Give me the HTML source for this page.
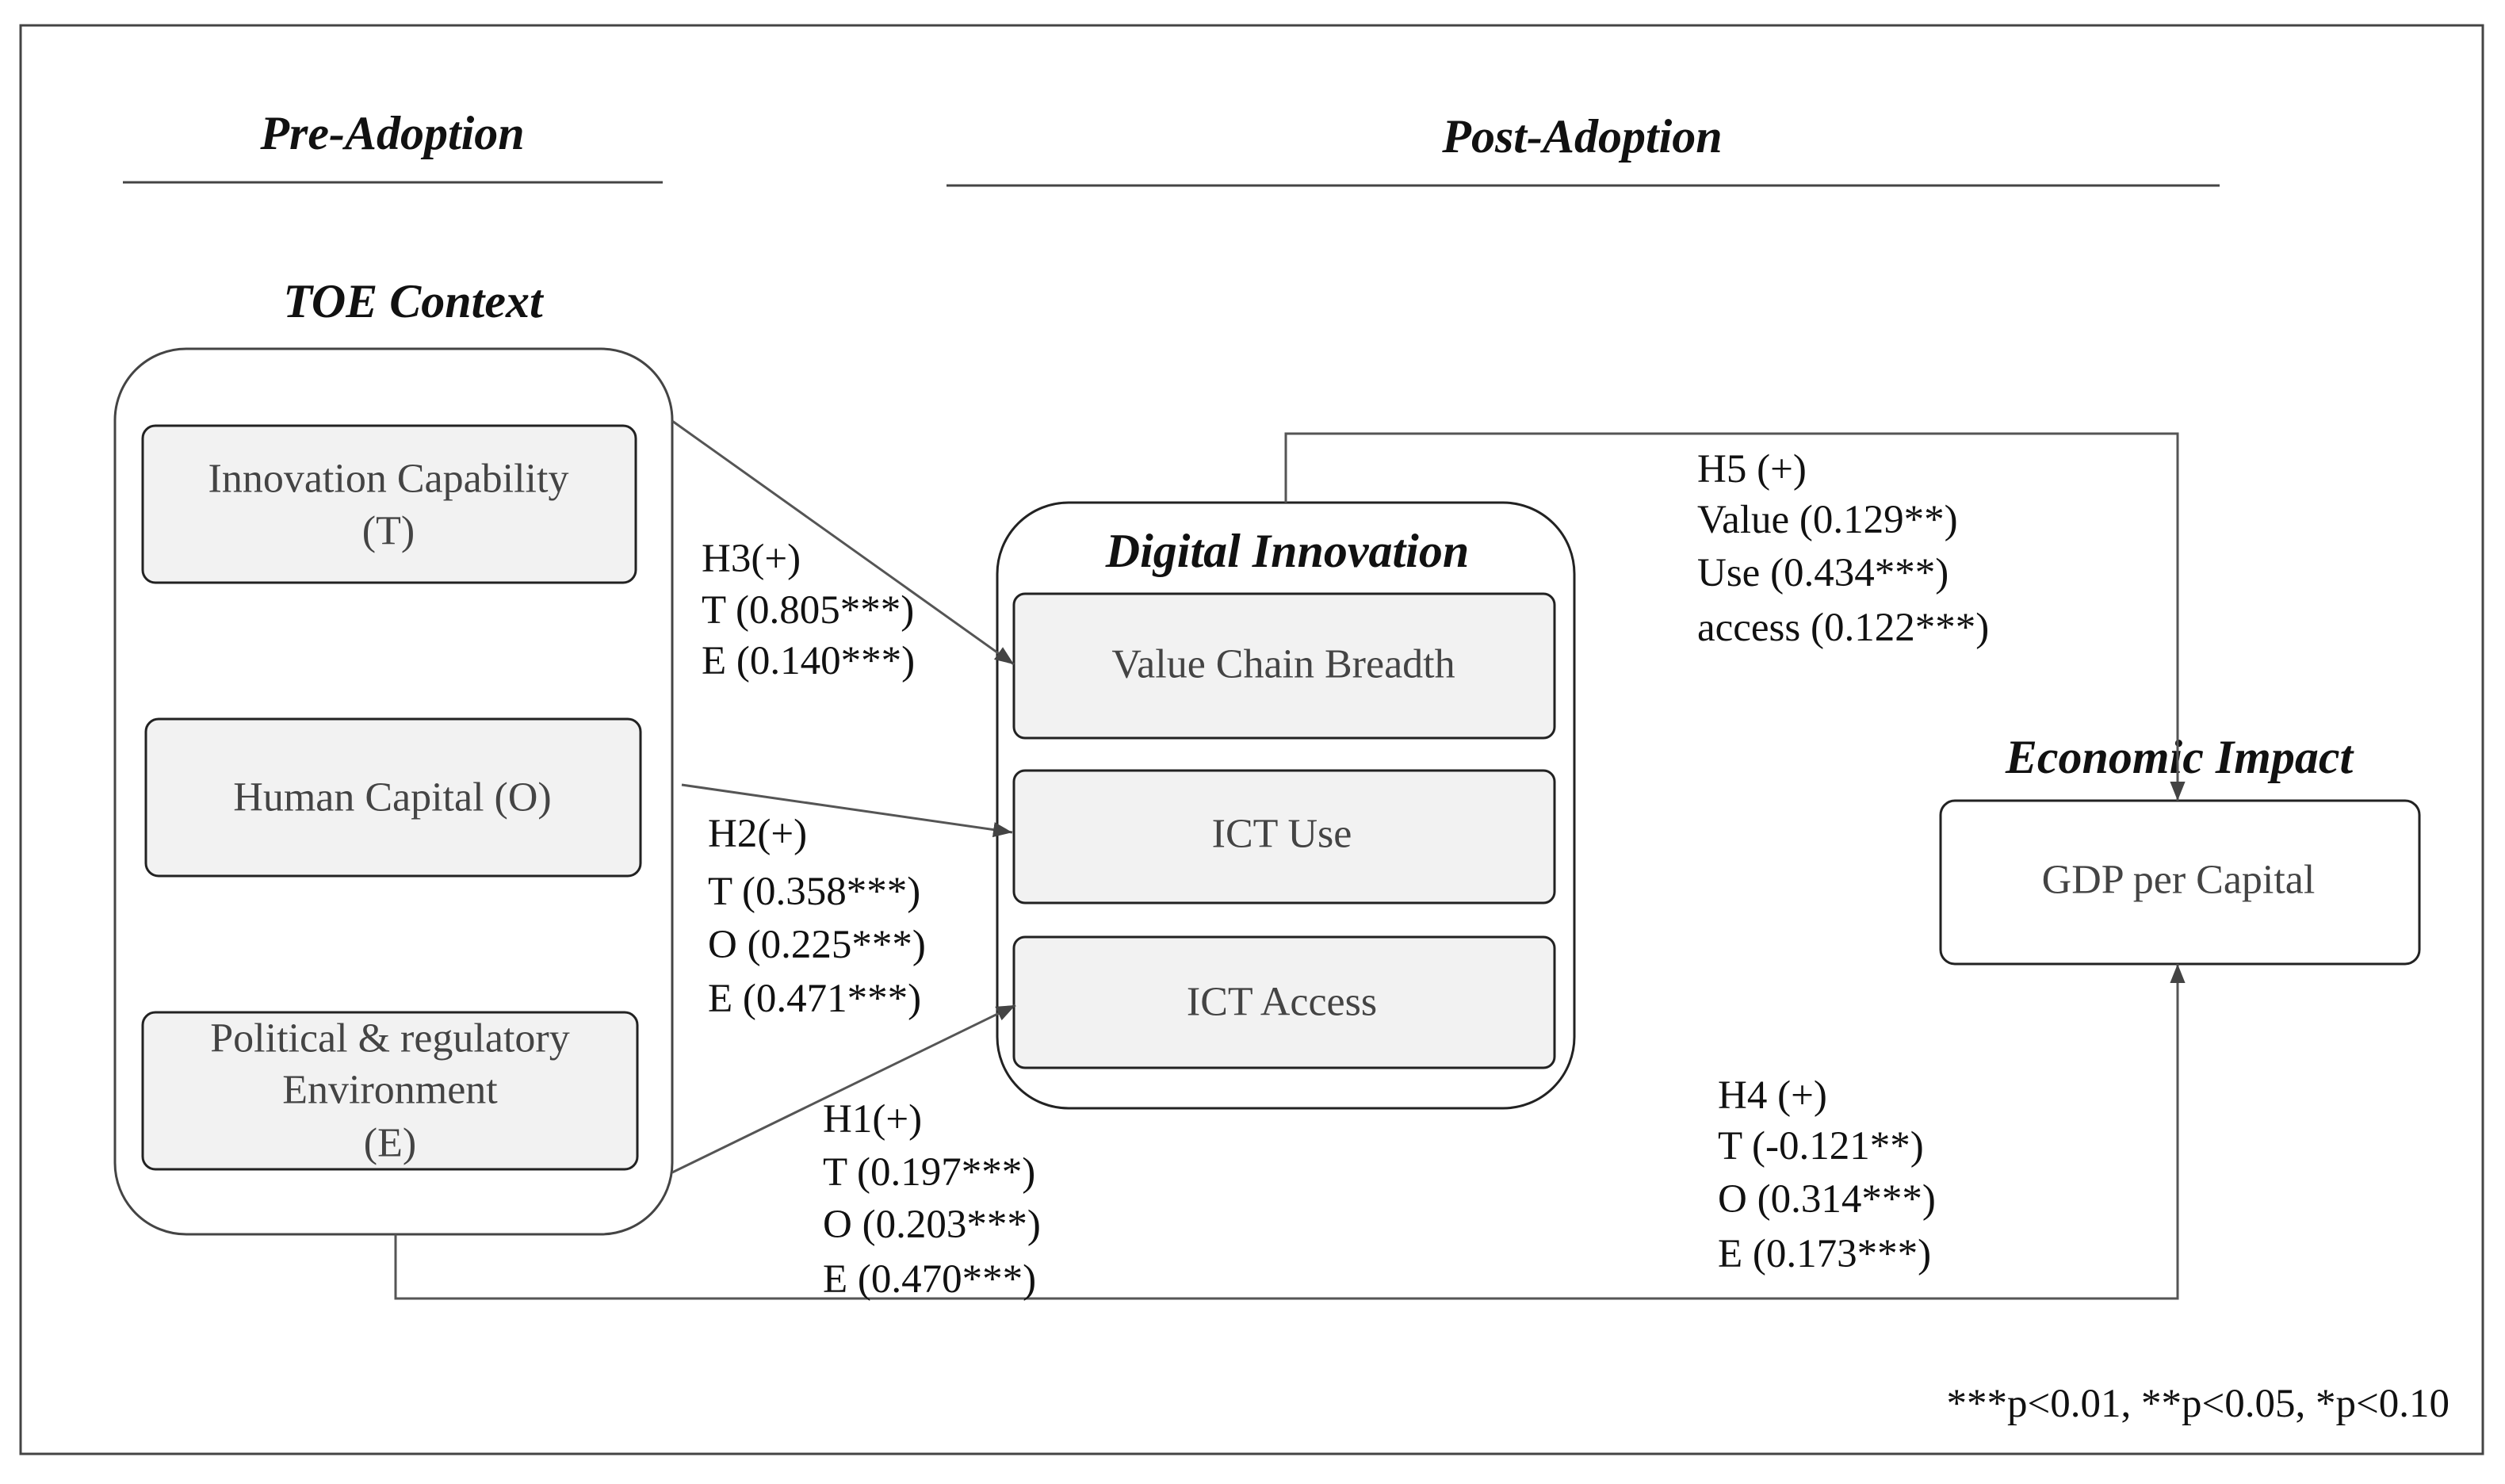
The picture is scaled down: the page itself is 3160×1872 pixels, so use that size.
<!DOCTYPE html>
<html><head><meta charset="utf-8"><style>
html,body{margin:0;padding:0;background:#fff}
svg{display:block}
text{font-family:"Liberation Serif",serif}
.h{font-style:italic;font-weight:bold;font-size:60px;fill:#111}
.b{font-size:52px;fill:#444}
.l{font-size:51px;fill:#111}
</style></head><body>
<svg width="3160" height="1872" viewBox="0 0 3160 1872" xmlns="http://www.w3.org/2000/svg">
<defs>
<marker id="ar" viewBox="0 0 10 10" refX="10" refY="5" markerWidth="24" markerHeight="24" markerUnits="userSpaceOnUse" orient="auto"><path d="M0,1 L10,5 L0,9 z" fill="#444"/></marker>
</defs>
<rect x="26" y="32" width="3106" height="1802" fill="#fff" stroke="#444" stroke-width="3"/>
<text class="h" x="495" y="168" text-anchor="middle" dominant-baseline="central">Pre-Adoption</text>
<line x1="155" y1="230" x2="836" y2="230" stroke="#444" stroke-width="3"/>
<text class="h" x="1996" y="172" text-anchor="middle" dominant-baseline="central">Post-Adoption</text>
<line x1="1194" y1="234" x2="2800" y2="234" stroke="#444" stroke-width="3"/>
<text class="h" x="521" y="380" text-anchor="middle" dominant-baseline="central">TOE Context</text>
<rect x="145" y="440" width="703" height="1117" rx="90" fill="#fff" stroke="#444" stroke-width="3"/>
<rect x="180" y="537" width="622" height="198" rx="16" fill="#f2f2f2" stroke="#222" stroke-width="3"/>
<text class="b" x="490" y="604" text-anchor="middle" dominant-baseline="central">Innovation Capability</text>
<text class="b" x="490" y="670" text-anchor="middle" dominant-baseline="central">(T)</text>
<rect x="184" y="907" width="624" height="198" rx="16" fill="#f2f2f2" stroke="#222" stroke-width="3"/>
<text class="b" x="495" y="1006" text-anchor="middle" dominant-baseline="central">Human Capital (O)</text>
<rect x="180" y="1277" width="624" height="198" rx="16" fill="#f2f2f2" stroke="#222" stroke-width="3"/>
<text class="b" x="492" y="1310" text-anchor="middle" dominant-baseline="central">Political &amp; regulatory</text>
<text class="b" x="492" y="1375" text-anchor="middle" dominant-baseline="central">Environment</text>
<text class="b" x="492" y="1442" text-anchor="middle" dominant-baseline="central">(E)</text>
<rect x="1258" y="634" width="728" height="764" rx="90" fill="#fff" stroke="#222" stroke-width="3"/>
<text class="h" x="1624" y="695" text-anchor="middle" dominant-baseline="central">Digital Innovation</text>
<rect x="1279" y="749" width="682" height="182" rx="14" fill="#f2f2f2" stroke="#222" stroke-width="3"/>
<text class="b" x="1619" y="838" text-anchor="middle" dominant-baseline="central">Value Chain Breadth</text>
<rect x="1279" y="972" width="682" height="167" rx="14" fill="#f2f2f2" stroke="#222" stroke-width="3"/>
<text class="b" x="1617" y="1052" text-anchor="middle" dominant-baseline="central">ICT Use</text>
<rect x="1279" y="1182" width="682" height="165" rx="14" fill="#f2f2f2" stroke="#222" stroke-width="3"/>
<text class="b" x="1617" y="1264" text-anchor="middle" dominant-baseline="central">ICT Access</text>
<text class="h" x="2749" y="955" text-anchor="middle" dominant-baseline="central">Economic Impact</text>
<rect x="2448" y="1010" width="604" height="206" rx="18" fill="#fff" stroke="#222" stroke-width="3"/>
<text class="b" x="2748" y="1110" text-anchor="middle" dominant-baseline="central">GDP per Capital</text>
<g fill="none" stroke="#555" stroke-width="3">
<line x1="848" y1="531" x2="1279" y2="838" marker-end="url(#ar)"/>
<line x1="860" y1="990" x2="1277" y2="1050" marker-end="url(#ar)"/>
<line x1="848" y1="1479" x2="1281" y2="1268" marker-end="url(#ar)"/>
<polyline points="1622,634 1622,547 2747,547 2747,1010" marker-end="url(#ar)"/>
<polyline points="499,1557 499,1638 2747,1638 2747,1216" marker-end="url(#ar)"/>
</g>
<g dominant-baseline="central">
<text x="885" y="705" class="l">H3(+)</text>
<text x="885" y="770" class="l">T (0.805***)</text>
<text x="885" y="834" class="l">E (0.140***)</text>
<text x="893" y="1052" class="l">H2(+)</text>
<text x="893" y="1125" class="l">T (0.358***)</text>
<text x="893" y="1192" class="l">O (0.225***)</text>
<text x="893" y="1260" class="l">E (0.471***)</text>
<text x="1038" y="1412" class="l">H1(+)</text>
<text x="1038" y="1479" class="l">T (0.197***)</text>
<text x="1038" y="1545" class="l">O (0.203***)</text>
<text x="1038" y="1614" class="l">E (0.470***)</text>
<text x="2141" y="592" class="l">H5 (+)</text>
<text x="2141" y="656" class="l">Value (0.129**)</text>
<text x="2141" y="723" class="l">Use (0.434***)</text>
<text x="2141" y="792" class="l">access (0.122***)</text>
<text x="2167" y="1382" class="l">H4 (+)</text>
<text x="2167" y="1446" class="l">T (-0.121**)</text>
<text x="2167" y="1513" class="l">O (0.314***)</text>
<text x="2167" y="1582" class="l">E (0.173***)</text>
<text x="3090" y="1771" class="l" text-anchor="end">***p&lt;0.01, **p&lt;0.05, *p&lt;0.10</text>
</g>
</svg>
</body></html>
